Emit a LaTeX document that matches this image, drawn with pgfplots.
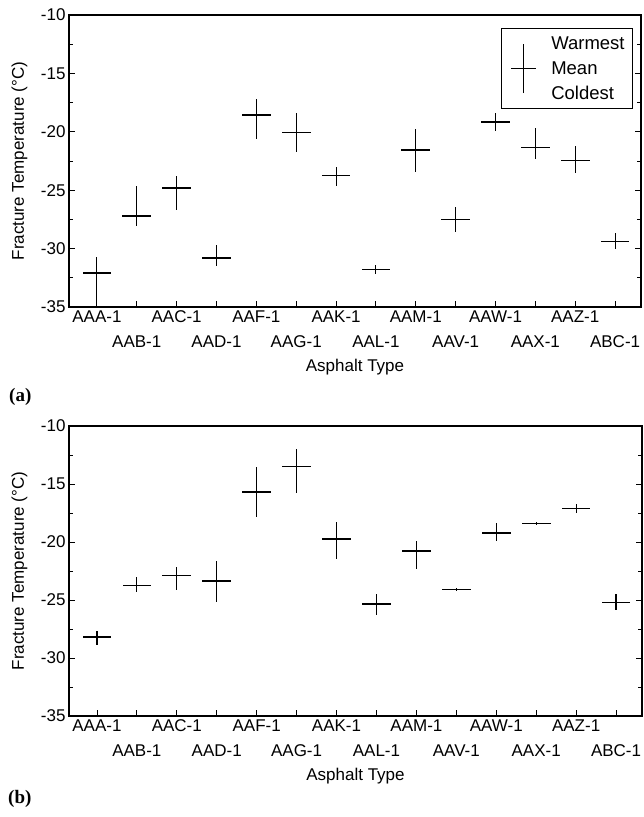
\documentclass[border=0pt]{standalone}
\usepackage{fontspec}
\setmainfont{Liberation Sans}
\newfontfamily\serifb{Liberation Serif}
\usepackage{pgfplots}
\pgfplotsset{compat=1.18}
\usepackage{pgfplotstable}

% x = category index, m = mean, w = warmest, c = coldest
\pgfplotstableread{
x m w c
0 -32.10 -30.75 -35.00
1 -27.20 -24.60 -28.10
2 -24.80 -23.80 -26.70
3 -30.80 -29.70 -31.50
4 -18.55 -17.20 -20.60
5 -20.05 -18.40 -21.70
6 -23.75 -23.00 -24.60
7 -31.80 -31.40 -32.20
8 -21.55 -19.80 -23.40
9 -27.50 -26.40 -28.60
10 -19.15 -18.40 -19.90
11 -21.35 -19.65 -22.30
12 -22.45 -21.20 -23.55
13 -29.40 -28.70 -30.05
}\tabA

\pgfplotstableread{
x m w c
0 -28.20 -27.65 -28.85
1 -23.75 -23.05 -24.35
2 -22.90 -22.15 -24.10
3 -23.35 -21.60 -25.20
4 -15.70 -13.50 -17.85
5 -13.50 -11.95 -15.80
6 -19.75 -18.30 -21.45
7 -25.35 -24.50 -26.30
8 -20.80 -19.95 -22.30
9 -24.10 -24.00 -24.25
10 -19.20 -18.40 -19.90
11 -18.40 -18.30 -18.50
12 -17.10 -16.70 -17.50
13 -25.20 -24.45 -25.85
}\tabB

\pgfplotsset{
  frac/.style={
    scale only axis,
    xmin=-0.7, xmax=13.65, ymin=-35, ymax=-10,
    ytick={-35,-30,...,-10}, minor y tick num=1,
    xtick={0,2,...,12},
    xticklabels={AAA-1,AAC-1,AAF-1,AAK-1,AAM-1,AAW-1,AAZ-1},
    extra x ticks={1,3,...,13},
    extra x tick labels={AAB-1,AAD-1,AAG-1,AAL-1,AAV-1,AAX-1,ABC-1},
    extra x tick style={tick label style={yshift=-25pt}},
    tick align=inside, xtick pos=left, ytick pos=both,
    major tick length=6pt, minor tick length=4pt,
    every tick/.style={black, line width=0.9pt},
    axis line style={line width=1.1pt},
    tick label style={font=\fontsize{17}{20}\selectfont},
    /pgf/number format/assume math mode=true,
    label style={font=\fontsize{17}{20}\selectfont},
    xlabel={Asphalt Type},
    ylabel={Fracture Temperature (°C)},
    xlabel style={at={(axis description cs:0.5,0)}, anchor=north, yshift=-49pt},
    ylabel style={at={(axis description cs:-0.0664,0.5)}, anchor=south},
  },
  hbar/.style={black, draw=none, mark=none, forget plot,
    error bars/.cd, x dir=both, x fixed=0.36, error mark=none,
    error bar style={draw=black, line width=1.6pt}},
  vbar/.style={black, draw=none, mark=none, forget plot,
    error bars/.cd, y dir=both, y explicit, error mark=none,
    error bar style={draw=black, line width=1.1pt}},
}

\begin{document}
\begin{tikzpicture}
\useasboundingbox (0,0) rectangle (643pt,817pt);

\begin{axis}[frac, at={(69pt,510pt)}, anchor=south west,
  width=572pt, height=292pt,
  legend style={at={(0.986,0.955)}, anchor=north east, draw=black,
    line width=0.8pt, font=\fontsize{18.5}{25}\selectfont,
    cells={align=left, anchor=west}, inner xsep=6pt, inner ysep=6pt}]
\addplot[hbar] table[x=x, y=m] {\tabA};
\addplot[vbar] table[x=x, y=m,
  y error plus expr=\thisrow{w}-\thisrow{m},
  y error minus expr=\thisrow{m}-\thisrow{c}] {\tabA};
\addlegendimage{legend image code/.code={
  \path (-4pt,0pt) (37.5pt,0pt);
  \draw[line width=1.6pt] (0pt,0pt) -- (25pt,0pt);
  \draw[line width=1.1pt] (12.5pt,-24.5pt) -- (12.5pt,24.5pt);}}
\addlegendentry{Warmest\\Mean\\Coldest}
\end{axis}

\begin{axis}[frac, at={(69pt,101pt)}, anchor=south west,
  width=573pt, height=290pt]
\addplot[hbar] table[x=x, y=m] {\tabB};
\addplot[vbar] table[x=x, y=m,
  y error plus expr=\thisrow{w}-\thisrow{m},
  y error minus expr=\thisrow{m}-\thisrow{c}] {\tabB};
\end{axis}

\node[anchor=west, inner sep=0pt, font=\fontsize{19}{22}\selectfont\serifb\bfseries] at (9pt,420pt) {(a)};
\node[anchor=west, inner sep=0pt, font=\fontsize{19}{22}\selectfont\serifb\bfseries] at (8pt,18pt) {(b)};
\end{tikzpicture}
\end{document}
